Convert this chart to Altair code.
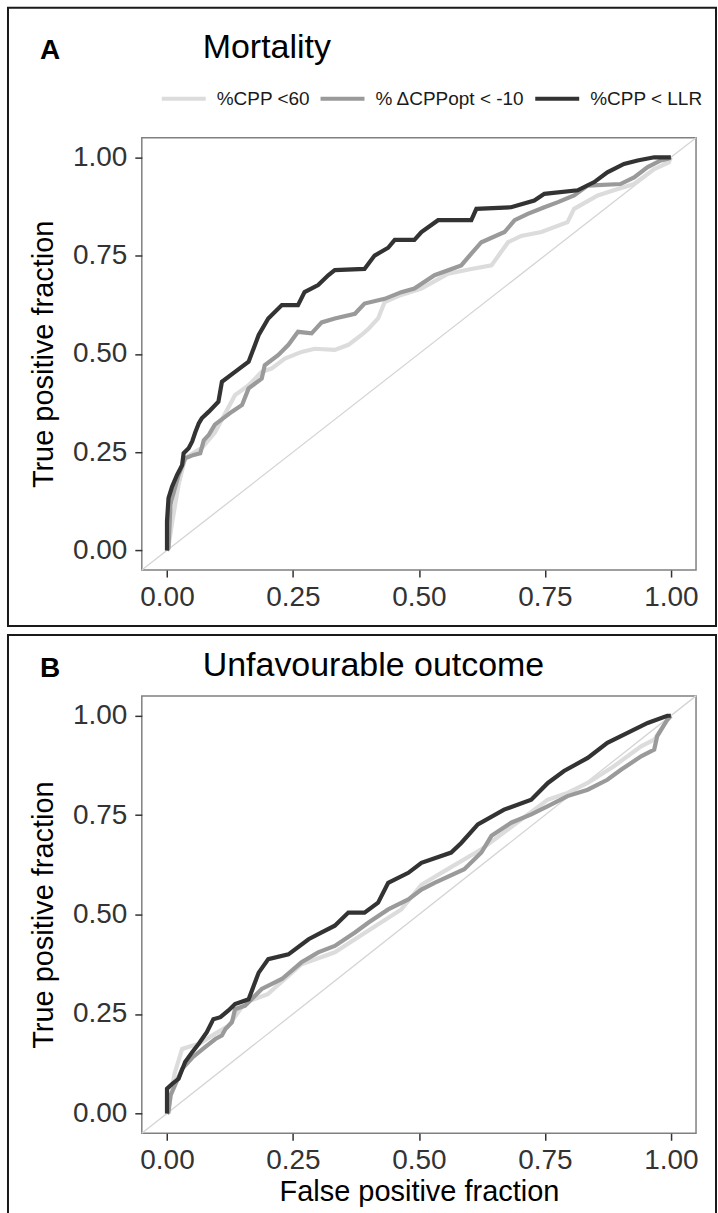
import altair as alt
import pandas as pd

SERIES = ["%CPP <60", "% ΔCPPopt < -10", "%CPP < LLR"]
COLORS = ["#dcdcdc", "#9a9a9a", "#333333"]
TICKS = [0, 0.25, 0.5, 0.75, 1.0]
DIAG = [-0.05, 1.05]

# ---- Panel A: Mortality ----
a_llr_fpr = [0, 0, 0.003, 0.01, 0.02, 0.03, 0.033, 0.043, 0.05, 0.056, 0.063, 0.069, 0.083, 0.102, 0.109,
             0.135, 0.162, 0.182, 0.201, 0.228, 0.26, 0.273, 0.30, 0.32, 0.333, 0.392, 0.412, 0.439, 0.452,
             0.491, 0.505, 0.538, 0.604, 0.614, 0.683, 0.729, 0.749, 0.815, 0.848, 0.874, 0.907, 0.934,
             0.967, 0.996, 1.0]
a_llr_tpr = [0, 0.074, 0.133, 0.162, 0.192, 0.217, 0.247, 0.26, 0.277, 0.30, 0.323, 0.336, 0.353, 0.378,
             0.429, 0.454, 0.48, 0.548, 0.59, 0.624, 0.624, 0.657, 0.675, 0.70, 0.713, 0.716, 0.75, 0.77,
             0.79, 0.79, 0.81, 0.84, 0.84, 0.869, 0.873, 0.89, 0.907, 0.916, 0.937, 0.962, 0.983, 0.992,
             1.0, 1.0, 1.0]
a_opt_fpr = [0, 0.003, 0.007, 0.01, 0.023, 0.036, 0.053, 0.066, 0.073, 0.083, 0.095, 0.129, 0.149, 0.162,
             0.188, 0.194, 0.221, 0.241, 0.26, 0.287, 0.307, 0.333, 0.373, 0.392, 0.432, 0.465, 0.491,
             0.531, 0.584, 0.604, 0.624, 0.67, 0.69, 0.716, 0.749, 0.776, 0.808, 0.835, 0.90, 0.927,
             0.954, 0.98, 0.996, 1.0]
a_opt_tpr = [0, 0.006, 0.117, 0.133, 0.192, 0.234, 0.243, 0.247, 0.28, 0.294, 0.32, 0.353, 0.37, 0.412,
             0.437, 0.471, 0.497, 0.523, 0.556, 0.552, 0.58, 0.59, 0.602, 0.628, 0.64, 0.657, 0.666,
             0.70, 0.725, 0.755, 0.784, 0.81, 0.84, 0.856, 0.873, 0.886, 0.903, 0.928, 0.932, 0.949,
             0.975, 0.992, 0.997, 1.0]
a_60_fpr = [0, 0.003, 0.01, 0.023, 0.036, 0.055, 0.069, 0.095, 0.135, 0.162, 0.188, 0.208, 0.234, 0.267,
            0.293, 0.333, 0.36, 0.386, 0.40, 0.419, 0.432, 0.465, 0.505, 0.558, 0.604, 0.644, 0.677,
            0.703, 0.743, 0.795, 0.808, 0.855, 0.887, 0.927, 0.967, 0.996, 1.0]
a_60_tpr = [0, 0.01, 0.07, 0.167, 0.235, 0.25, 0.26, 0.30, 0.395, 0.42, 0.454, 0.463, 0.488, 0.505,
            0.513, 0.51, 0.523, 0.548, 0.564, 0.59, 0.632, 0.65, 0.666, 0.704, 0.716, 0.725, 0.784,
            0.80, 0.81, 0.835, 0.869, 0.903, 0.916, 0.932, 0.97, 0.987, 1.0]

# ---- Panel B: Unfavourable outcome ----
b_llr_fpr = [0, 0, 0.01, 0.023, 0.036, 0.05, 0.063, 0.079, 0.092, 0.106, 0.122, 0.135, 0.162, 0.182,
             0.201, 0.241, 0.281, 0.307, 0.333, 0.36, 0.392, 0.419, 0.439, 0.479, 0.505, 0.564, 0.584,
             0.617, 0.669, 0.723, 0.756, 0.788, 0.835, 0.874, 0.914, 0.954, 0.993, 1.0]
b_llr_tpr = [0, 0.062, 0.074, 0.087, 0.129, 0.154, 0.175, 0.204, 0.237, 0.242, 0.259, 0.275, 0.287,
             0.354, 0.388, 0.40, 0.438, 0.455, 0.472, 0.505, 0.505, 0.53, 0.58, 0.605, 0.63, 0.656, 0.68,
             0.727, 0.764, 0.789, 0.831, 0.861, 0.894, 0.932, 0.957, 0.982, 1.0, 1.0]
b_opt_fpr = [0, 0.003, 0.007, 0.03, 0.05, 0.075, 0.096, 0.109, 0.116, 0.129, 0.135, 0.155, 0.188, 0.228,
             0.267, 0.30, 0.333, 0.373, 0.40, 0.439, 0.479, 0.505, 0.531, 0.59, 0.624, 0.644, 0.683,
             0.723, 0.756, 0.795, 0.835, 0.874, 0.901, 0.941, 0.967, 0.973, 0.993, 1.0]
b_opt_tpr = [0, 0.003, 0.045, 0.112, 0.14, 0.166, 0.187, 0.196, 0.212, 0.229, 0.262, 0.271, 0.313, 0.338,
             0.38, 0.405, 0.421, 0.455, 0.48, 0.513, 0.538, 0.563, 0.58, 0.614, 0.656, 0.698, 0.731,
             0.752, 0.773, 0.798, 0.814, 0.839, 0.864, 0.898, 0.915, 0.949, 0.99, 1.0]
b_60_fpr = [0, 0.005, 0.015, 0.03, 0.05, 0.064, 0.095, 0.122, 0.155, 0.2, 0.267, 0.333, 0.40, 0.465,
            0.505, 0.558, 0.624, 0.703, 0.756, 0.795, 0.835, 0.887, 0.941, 0.967, 0.993, 1.0]
b_60_tpr = [0, 0.025, 0.10, 0.162, 0.17, 0.175, 0.20, 0.22, 0.279, 0.30, 0.375, 0.405, 0.46, 0.513,
            0.575, 0.615, 0.664, 0.739, 0.789, 0.806, 0.831, 0.873, 0.923, 0.94, 0.99, 1.0]

FONT = "Liberation Sans"
W = 555


def series_df(fpr, tpr, name):
    return pd.DataFrame({"fpr": fpr, "tpr": tpr, "series": name, "i": list(range(len(fpr)))})


def panel(curves, letter, title, h, box_top, box_bottom, title_y, legend, xtitle):
    x = alt.X("fpr:Q", scale=alt.Scale(domain=[-0.05, 1.05], nice=False, zero=False),
              axis=alt.Axis(values=TICKS, format=".2f", title=xtitle))
    y = alt.Y("tpr:Q", scale=alt.Scale(domain=[-0.05, 1.05], nice=False, zero=False),
              axis=alt.Axis(values=TICKS, format=".2f", title="True positive fraction"))
    color = alt.Color("series:N", scale=alt.Scale(domain=SERIES, range=COLORS), legend=legend)

    diag = alt.Chart(pd.DataFrame({"fpr": DIAG, "tpr": DIAG})).mark_line(
        color="#d4d4d4", strokeWidth=1.3).encode(x=x, y=y)
    layers = [diag]
    for name, (f, t) in zip(SERIES, curves):
        layers.append(
            alt.Chart(series_df(f, t, name)).mark_line(strokeWidth=4.2).encode(
                x=x, y=y, color=color, order="i:Q")
        )
    one = pd.DataFrame({"k": [0]})
    box = alt.Chart(one).mark_rect(filled=False, stroke="#1a1a1a", strokeWidth=2).encode(
        x=alt.value(-134), x2=alt.value(575), y=alt.value(box_top), y2=alt.value(box_bottom))
    let = alt.Chart(one).mark_text(text=letter, font=FONT, fontSize=28, fontWeight="bold",
                                   align="left", baseline="alphabetic", color="#000").encode(
        x=alt.value(-102), y=alt.value(title_y + 1))
    ttl = alt.Chart(one).mark_text(text=title, font=FONT, fontSize=34, align="left",
                                   baseline="alphabetic", color="#000").encode(
        x=alt.value(61), y=alt.value(title_y))
    return alt.layer(box, let, ttl, *layers).properties(width=W, height=h)


legendA = alt.Legend(orient="none", legendX=18, legendY=-63, direction="horizontal", title=None,
                     symbolType="stroke", symbolSize=1936, symbolStrokeWidth=4, labelFont=FONT,
                     labelFontSize=19, labelColor="#1a1a1a", labelOffset=9, columnPadding=2,
                     padding=0)

A = panel([(a_60_fpr, a_60_tpr), (a_opt_fpr, a_opt_tpr), (a_llr_fpr, a_llr_tpr)],
          "A", "Mortality", 433, -130, 489, -80, legendA, None)
B = panel([(b_60_fpr, b_60_tpr), (b_opt_fpr, b_opt_tpr), (b_llr_fpr, b_llr_tpr)],
          "B", "Unfavourable outcome", 438, -61, 519, -20, None, "False positive fraction")

chart = alt.vconcat(A, B, spacing=5).resolve_scale(color="independent").properties(
    padding={"left": 6, "top": 5, "right": 0, "bottom": 0}
).configure(background="white").configure_view(
    stroke="#808080", strokeWidth=1.5
).configure_axis(
    grid=False, domain=False, labelFont=FONT, labelFontSize=28, labelColor="#333333",
    tickColor="#333333", tickWidth=1.5, tickSize=7, labelPadding=6,
    titleFont=FONT, titleFontSize=29, titleFontWeight="normal", titleColor="#000000",
).configure_axisX(titlePadding=3).configure_axisY(labelPadding=8, titlePadding=14)

chart.save("out.html", embed_options={"renderer": "svg", "actions": False})
